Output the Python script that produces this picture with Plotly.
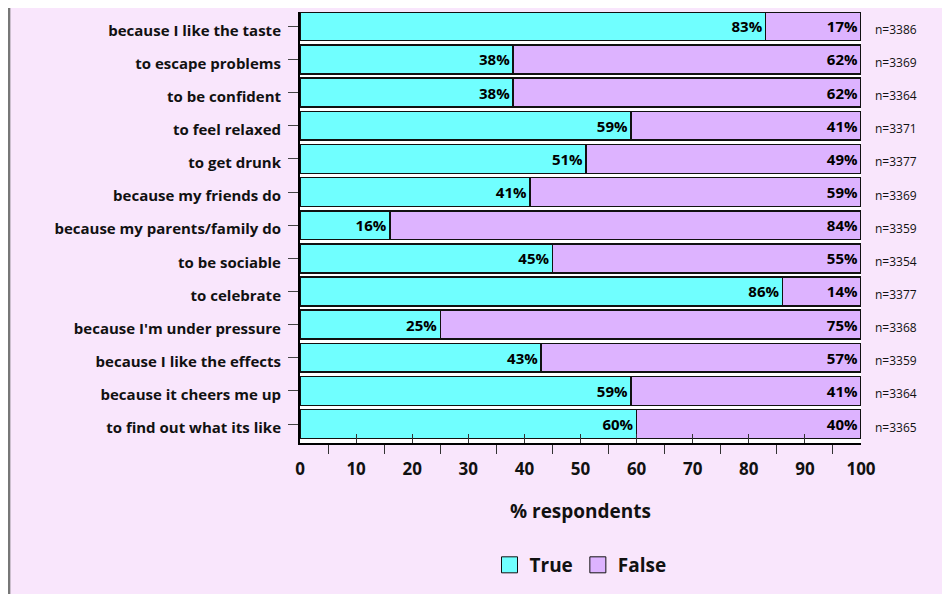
import plotly.graph_objects as go

categories = ["because I like the taste", "to escape problems", "to be confident",
              "to feel relaxed", "to get drunk", "because my friends do",
              "because my parents/family do", "to be sociable", "to celebrate",
              "because I'm under pressure", "because I like the effects",
              "because it cheers me up", "to find out what its like"]
true_vals = [83, 38, 38, 59, 51, 41, 16, 45, 86, 25, 43, 59, 60]
false_vals = [17, 62, 62, 41, 49, 59, 84, 55, 14, 75, 57, 41, 40]
n_vals = [3386, 3369, 3364, 3371, 3377, 3369, 3359, 3354, 3377, 3368, 3359, 3364, 3365]

FONT = "Open Sans"
CYAN = "#70FFFF"
LAV = "#DDB3FF"
BG = "#F9E6FC"

fig = go.Figure()
for vals, name, col in [(true_vals, "True", CYAN), (false_vals, "False", LAV)]:
    fig.add_trace(go.Bar(
        y=categories, x=vals, name=name, orientation="h", showlegend=False,
        marker=dict(color=col, line=dict(color="#111111", width=1.5)),
        text=[f"{v}%" for v in vals], textposition="inside",
        insidetextanchor="end", textangle=0, constraintext="none",
        textfont=dict(family=FONT, size=15, color="black", weight="bold"),
    ))
    fig.add_trace(go.Scatter(
        x=[None], y=[None], mode="markers", name=name,
        marker=dict(symbol="square", size=18, color=col,
                    line=dict(color="#111111", width=1)),
    ))

for c, n in zip(categories, n_vals):
    fig.add_annotation(x=100, y=c, xref="x", yref="y", text=f"n={n}",
                       showarrow=False, xanchor="left", xshift=12, yshift=-3,
                       font=dict(family=FONT, size=12, color="#111111"))

fig.add_shape(type="line", xref="paper", yref="paper",
              x0=-0.519, x1=-0.519, y0=-0.5, y1=1.05,
              line=dict(color="#777777", width=3))

n_cat = len(categories)
fig.update_layout(
    width=950, height=594,
    barmode="stack", bargap=0.13,
    paper_bgcolor=BG, plot_bgcolor="white",
    margin=dict(l=292, r=97, t=4, b=159),
    font=dict(family=FONT, color="#111111"),
    showlegend=True,
    legend=dict(orientation="h", x=0.5, xanchor="center", y=-0.283,
                yanchor="middle", bgcolor="rgba(0,0,0,0)", traceorder="normal",
                font=dict(family=FONT, size=19, color="#111111", weight="bold"),
                itemwidth=30),
    xaxis=dict(range=[0, 100], tickvals=list(range(0, 101, 10)),
               ticks="inside", ticklen=9, tickcolor="#333333", tickwidth=1,
               minor=dict(tickvals=list(range(5, 100, 10)), ticks="outside",
                          ticklen=9, tickcolor="#333333", tickwidth=1),
               showgrid=False, zeroline=False,
               showline=True, linecolor="black", linewidth=2, mirror=False,
               ticklabelstandoff=10,
               tickfont=dict(family=FONT, size=17, color="#111111", weight="bold"),
               title=dict(text="% respondents", standoff=25,
                          font=dict(family=FONT, size=19, color="#111111", weight="bold"))),
    yaxis=dict(categoryorder="array", categoryarray=categories,
               range=[n_cat - 1 + 0.5 + 0.07, -0.5 + 0.07],
               ticks="outside", ticklen=10, tickcolor="#444444", tickwidth=1,
               ticklabelstandoff=4, ticklabelshift=-4,
               showline=True, linecolor="black", linewidth=2,
               showgrid=False, zeroline=False,
               tickfont=dict(family=FONT, size=15, color="#111111", weight="bold")),
)

fig.write_html("out.html")
